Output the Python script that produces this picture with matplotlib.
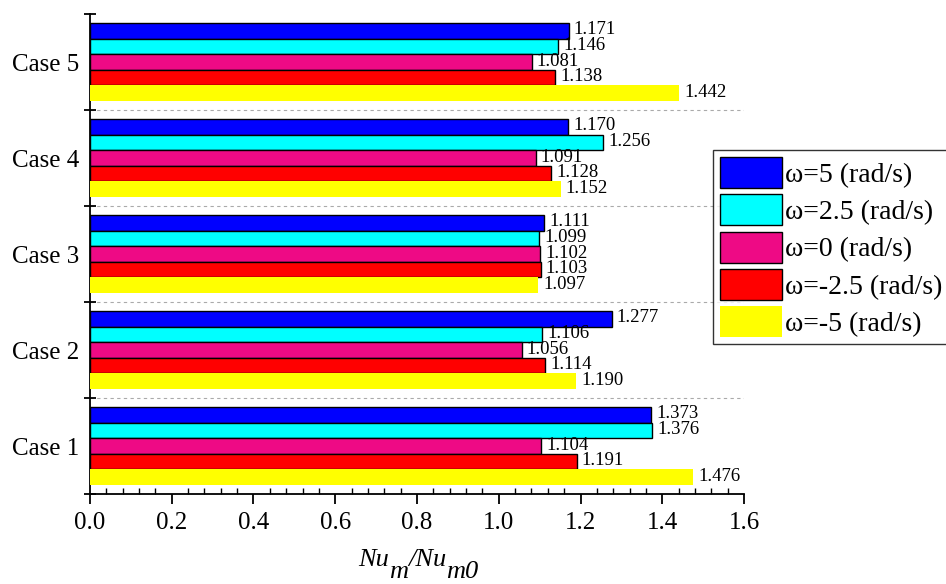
import numpy as np
import matplotlib
matplotlib.use('Agg')
import matplotlib.pyplot as plt
from matplotlib.ticker import MultipleLocator, FormatStrFormatter

plt.rcParams['font.family'] = ['Liberation Serif', 'DejaVu Serif']

# data
cases = ['Case 1', 'Case 2', 'Case 3', 'Case 4', 'Case 5']
series = ['ω=5 (rad/s)', 'ω=2.5 (rad/s)', 'ω=0 (rad/s)', 'ω=-2.5 (rad/s)', 'ω=-5 (rad/s)']
w_5 = [1.373, 1.277, 1.111, 1.170, 1.171]
w_2p5 = [1.376, 1.106, 1.099, 1.256, 1.146]
w_0 = [1.104, 1.056, 1.102, 1.091, 1.081]
w_m2p5 = [1.191, 1.114, 1.103, 1.128, 1.138]
w_m5 = [1.476, 1.190, 1.097, 1.152, 1.442]

colors = ['#0000FF', '#00FFFF', '#EE0A85', '#FF0000', '#FFFF00']
edges = ['black', 'black', 'black', 'black', 'none']

W, H = 946, 584
fig = plt.figure(figsize=(W / 100, H / 100), dpi=100)
ax = fig.add_axes([0.0951, 0.1541, 0.6914, 0.8219])

y = np.arange(1, len(cases) + 1)
h = 0.162
for i, vals in enumerate([w_5, w_2p5, w_0, w_m2p5, w_m5]):
    pos = y + (2 - i) * h
    ax.barh(pos, vals, height=h, color=colors[i], edgecolor=edges[i],
            linewidth=1.0, label=series[i], zorder=3)
    for p, v in zip(pos, vals):
        ax.text(v + 0.012, p + 0.01, f'{v:.3f}', va='center', ha='left',
                fontsize=13.5, zorder=4)

# dashed separators between cases
for s in np.arange(1.5, 5.0, 1.0):
    ax.axhline(s, color='#aaaaaa', linestyle=(0, (3, 3)), linewidth=0.8, zorder=1)

ax.set_xlim(0, 1.6)
ax.set_ylim(0.5, 5.5)
ax.spines['top'].set_visible(False)
ax.spines['right'].set_visible(False)
ax.spines['left'].set_linewidth(1.3)
ax.spines['bottom'].set_linewidth(1.3)

ax.xaxis.set_major_locator(MultipleLocator(0.2))
ax.xaxis.set_minor_locator(MultipleLocator(0.04))
ax.xaxis.set_major_formatter(FormatStrFormatter('%.1f'))
ax.tick_params(axis='x', which='major', direction='out', length=7, width=1.3,
               labelsize=18, pad=6)
ax.tick_params(axis='x', which='minor', direction='in', length=4, width=1.0)

ax.set_yticks(np.arange(0.5, 5.6, 1.0))
ax.set_yticklabels([])
ax.tick_params(axis='y', which='major', direction='inout', length=8, width=1.3)
ax.set_yticks(y, minor=True)
ax.set_yticklabels(cases, minor=True)
ax.tick_params(axis='y', which='minor', length=0, labelsize=18, pad=8)

# x label Nu_m/Nu_m0, subscripts at full size like the original
renderer = fig.canvas.get_renderer()
pieces = [('Nu', 0), ('m', 12), ('/Nu', 0), ('m0', 12)]
x_px = 358
for txt, dy in pieces:
    t = fig.text(x_px / W, 1 - (566 + dy) / H, txt, fontsize=19, style='italic',
                 ha='left', va='baseline')
    x_px += t.get_window_extent(renderer).width

leg = ax.legend(loc='upper left', bbox_to_anchor=(0.7537, 0.7432),
                bbox_transform=fig.transFigure, fontsize=20, frameon=True,
                fancybox=False, edgecolor='black', handlelength=2.23,
                handleheight=1.34, labelspacing=0.23, borderpad=0.25,
                handletextpad=0.12, borderaxespad=0)
leg.get_frame().set_linewidth(1.0)

fig.savefig('out.png', dpi=100)
